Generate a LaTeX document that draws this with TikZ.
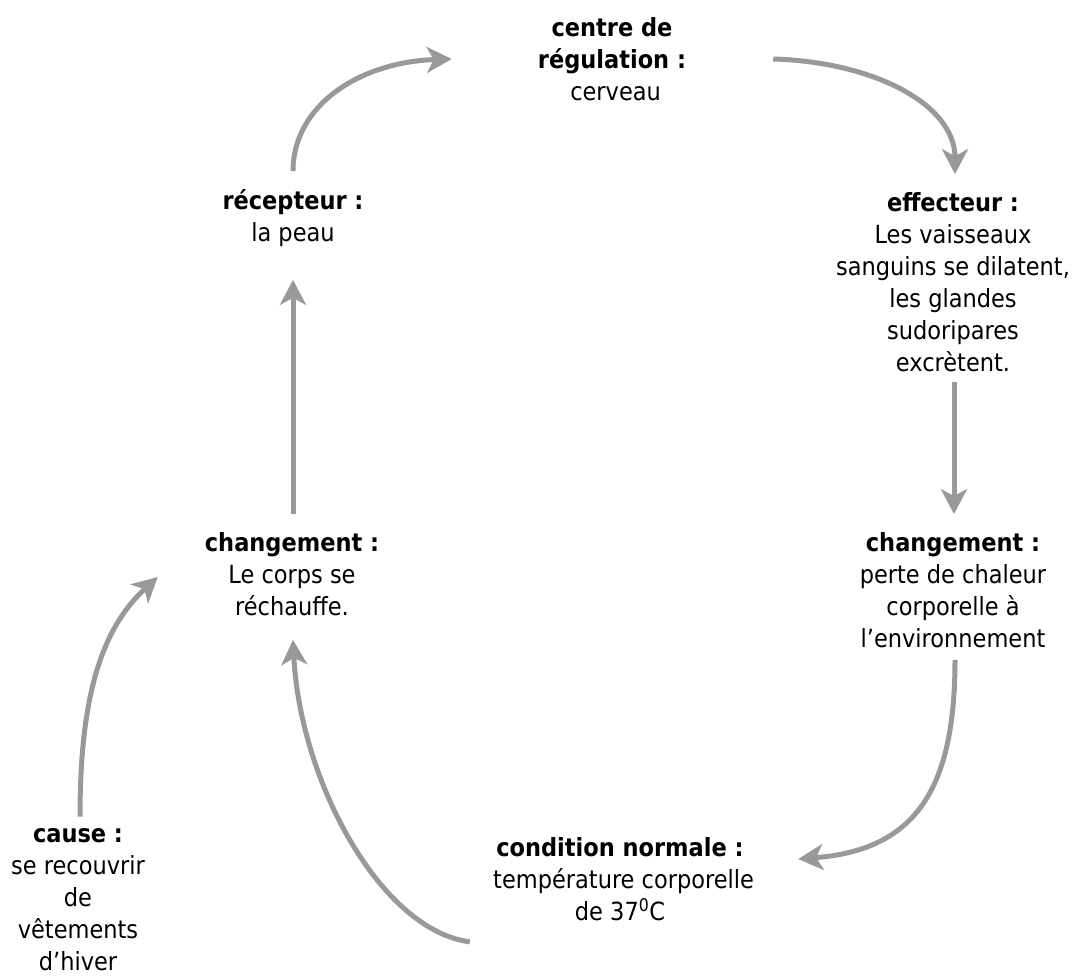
\documentclass[tikz,border=0pt]{standalone}
\usepackage{fontspec}
\setmainfont{DejaVu Sans Condensed}[BoldFont={DejaVu Sans Condensed Bold}]
\usetikzlibrary{arrows.meta,calc}
\definecolor{flechegris}{RGB}{153,153,153}
\tikzset{
	etape/.style={align=center, inner sep=0pt, font=\fontsize{25}{32}\selectfont},
	fleche/.style={draw=flechegris, line width=5pt, -{Stealth[length=25pt,width=26pt,inset=7pt]}}
}
\begin{document}
\begin{tikzpicture}[x=1pt,y=-1pt]
		\useasboundingbox (0,0) rectangle (1076,978);
		\node[etape] (centre) at (612,59) {\textbf{centre de}\\\textbf{régulation :}\\~cerveau};
		\node[etape] (recepteur) at (293,218) {\textbf{récepteur :}\\la peau};
		\node[etape] (effecteur) at (953,282) {\textbf{effecteur :}\\Les vaisseaux\\sanguins se dilatent,\\les glandes\\sudoripares\\excrètent.};
		\node[etape] (changeR) at (953,590) {\textbf{changement :}\\perte de chaleur\\corporelle à\\l’environnement};
		\node[etape] (condition) at (620,879) {\textbf{condition normale :}\\~température corporelle\\de 37\textsuperscript{0}C};
		\node[etape] (changeL) at (292,574) {\textbf{changement :}\\Le corps se\\réchauffe.};
		\node[etape] (cause) at (78,900) {\textbf{cause :}\\se recouvrir\\de\\vêtements\\d’hiver};
		% boucle de retroaction
		\draw[fleche] ($(recepteur.north)+(0,-18)$) .. controls (293,105) and (360,62) .. ($(centre.west)+(-86,0)$);
		\draw[fleche] ($(centre.east)+(87,0)$) .. controls (875,62) and (955,105) .. ($(effecteur.north)+(2,-18)$);
		\draw[fleche] ($(effecteur.south)+(1,10)$) to ($(changeR.north)+(1,-18)$);
		\draw[fleche] ($(changeR.south)+(2,12)$) .. controls (955,790) and (915,850) .. ($(condition.east)+(44,-20)$);
		\draw[fleche] ($(condition.south west)+(-16,21)$) .. controls (380,930) and (300,780) .. ($(changeL.south)+(1,24)$);
		\draw[fleche] ($(changeL.north)+(1,-18)$) to ($(recepteur.south)+(0,33)$);
		\draw[fleche] ($(cause.north)+(2,-12)$) .. controls (80,700) and (100,630) .. ($(changeL.west)+(-47,3)$);
\end{tikzpicture}
\end{document}
